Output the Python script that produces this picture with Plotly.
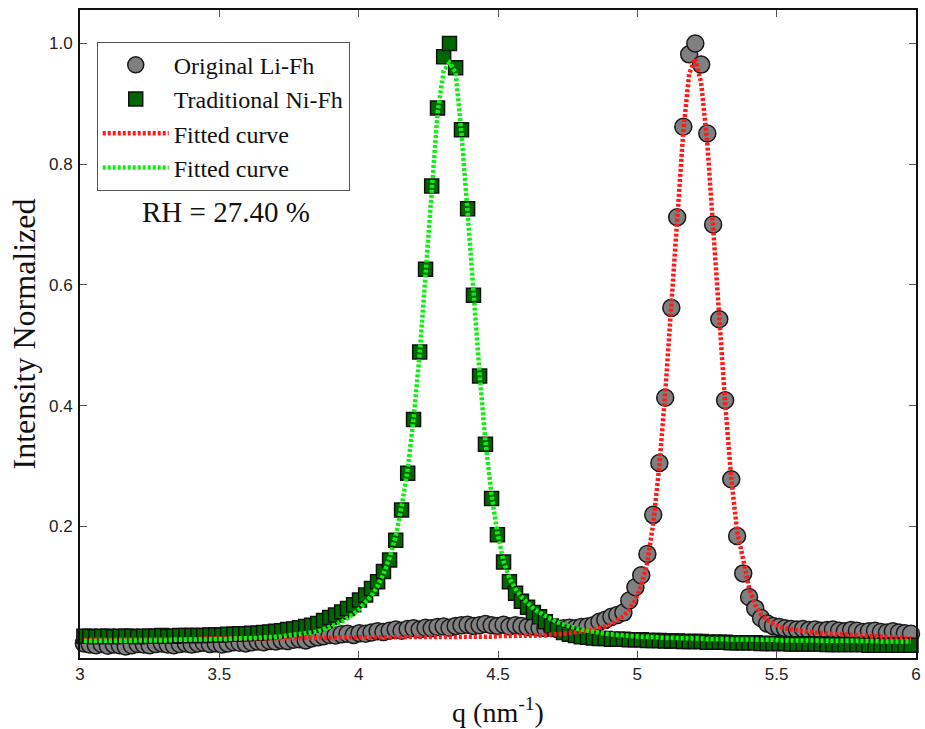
"""
Normalized scattering intensity vs q for Li-Fh and Ni-Fh, with fitted curves.
"""

import plotly.graph_objects as go

# q grid (nm^-1) shared by both samples and fits
q = [
    3.014, 3.035, 3.057, 3.078, 3.100, 3.121, 3.143, 3.164, 3.186, 3.207,
    3.229, 3.250, 3.272, 3.294, 3.315, 3.337, 3.358, 3.380, 3.401, 3.423,
    3.444, 3.466, 3.487, 3.509, 3.530, 3.552, 3.573, 3.595, 3.616, 3.638,
    3.659, 3.681, 3.702, 3.724, 3.745, 3.767, 3.788, 3.810, 3.831, 3.853,
    3.874, 3.896, 3.917, 3.939, 3.960, 3.982, 4.003, 4.025, 4.046, 4.068,
    4.089, 4.111, 4.133, 4.154, 4.176, 4.197, 4.219, 4.240, 4.262, 4.283,
    4.305, 4.326, 4.348, 4.369, 4.391, 4.412, 4.434, 4.455, 4.477, 4.498,
    4.520, 4.541, 4.563, 4.584, 4.606, 4.627, 4.649, 4.670, 4.692, 4.713,
    4.735, 4.756, 4.778, 4.799, 4.821, 4.842, 4.864, 4.885, 4.907, 4.928,
    4.950, 4.971, 4.993, 5.014, 5.036, 5.057, 5.079, 5.100, 5.122, 5.143,
    5.165, 5.186, 5.208, 5.229, 5.251, 5.272, 5.294, 5.315, 5.337, 5.358,
    5.380, 5.401, 5.423, 5.444, 5.466, 5.487, 5.509, 5.530, 5.552, 5.573,
    5.595, 5.616, 5.638, 5.659, 5.681, 5.702, 5.724, 5.745, 5.767, 5.788,
    5.810, 5.831, 5.853, 5.874, 5.896, 5.917, 5.939, 5.960, 5.982,
]

# Original Li-Fh (measured)
li_fh = [
    0.006, 0.004, 0.003, 0.005, 0.002, 0.004, 0.003, 0.001, 0.003, 0.005,
    0.004, 0.003, 0.005, 0.006, 0.004, 0.003, 0.005, 0.006, 0.004, 0.006,
    0.007, 0.005, 0.006, 0.004, 0.006, 0.008, 0.007, 0.006, 0.008, 0.009,
    0.008, 0.010, 0.009, 0.011, 0.010, 0.012, 0.013, 0.011, 0.014, 0.016,
    0.018, 0.020, 0.019, 0.021, 0.022, 0.020, 0.023, 0.022, 0.024, 0.026,
    0.025, 0.027, 0.029, 0.027, 0.030, 0.031, 0.029, 0.032, 0.031, 0.033,
    0.034, 0.032, 0.035, 0.036, 0.037, 0.035, 0.036, 0.038, 0.036, 0.035,
    0.037, 0.034, 0.036, 0.035, 0.033, 0.034, 0.032, 0.031, 0.033, 0.030,
    0.031, 0.032, 0.031, 0.033, 0.034, 0.036, 0.042, 0.045, 0.050, 0.053,
    0.057, 0.077, 0.099, 0.119, 0.154, 0.219, 0.305, 0.413, 0.562, 0.712,
    0.862, 0.982, 1.000, 0.965, 0.851, 0.700, 0.543, 0.409, 0.278, 0.184,
    0.122, 0.083, 0.064, 0.048, 0.039, 0.035, 0.033, 0.031, 0.030, 0.029,
    0.030, 0.028, 0.029, 0.027, 0.028, 0.029, 0.027, 0.026, 0.028, 0.027,
    0.025, 0.026, 0.027, 0.025, 0.024, 0.026, 0.024, 0.023, 0.022,
]

# Traditional Ni-Fh (measured)
ni_fh = [
    0.018, 0.018, 0.017, 0.018, 0.018, 0.017, 0.018, 0.018, 0.018, 0.017,
    0.018, 0.018, 0.018, 0.019, 0.018, 0.018, 0.019, 0.019, 0.019, 0.019,
    0.019, 0.020, 0.020, 0.020, 0.021, 0.021, 0.022, 0.022, 0.023, 0.023,
    0.024, 0.025, 0.026, 0.027, 0.029, 0.030, 0.032, 0.034, 0.036, 0.039,
    0.044, 0.049, 0.053, 0.058, 0.064, 0.070, 0.078, 0.086, 0.097, 0.108,
    0.125, 0.144, 0.177, 0.227, 0.288, 0.377, 0.489, 0.626, 0.764, 0.893,
    0.978, 1.000, 0.960, 0.857, 0.726, 0.583, 0.449, 0.336, 0.246, 0.186,
    0.141, 0.108, 0.089, 0.076, 0.066, 0.057, 0.050, 0.042, 0.035, 0.029,
    0.024, 0.021, 0.019, 0.017, 0.016, 0.015, 0.014, 0.014, 0.013, 0.013,
    0.013, 0.012, 0.012, 0.012, 0.011, 0.011, 0.011, 0.010, 0.010, 0.010,
    0.009, 0.009, 0.009, 0.009, 0.008, 0.008, 0.008, 0.008, 0.007, 0.007,
    0.007, 0.007, 0.007, 0.006, 0.006, 0.006, 0.006, 0.006, 0.005, 0.005,
    0.005, 0.005, 0.005, 0.005, 0.004, 0.004, 0.004, 0.004, 0.004, 0.004,
    0.004, 0.003, 0.003, 0.003, 0.003, 0.003, 0.003, 0.003, 0.003,
]

# Fitted curve for Li-Fh (red)
li_fit = [
    0.012, 0.012, 0.012, 0.012, 0.012, 0.012, 0.012, 0.012, 0.012, 0.012,
    0.013, 0.013, 0.013, 0.013, 0.013, 0.013, 0.013, 0.013, 0.013, 0.013,
    0.014, 0.014, 0.014, 0.014, 0.014, 0.014, 0.014, 0.014, 0.014, 0.014,
    0.015, 0.015, 0.015, 0.015, 0.015, 0.015, 0.015, 0.015, 0.015, 0.015,
    0.015, 0.015, 0.015, 0.016, 0.016, 0.016, 0.016, 0.016, 0.016, 0.016,
    0.016, 0.016, 0.016, 0.016, 0.016, 0.016, 0.016, 0.016, 0.016, 0.016,
    0.016, 0.016, 0.017, 0.017, 0.017, 0.017, 0.017, 0.017, 0.017, 0.018,
    0.018, 0.018, 0.018, 0.018, 0.019, 0.019, 0.019, 0.020, 0.020, 0.021,
    0.022, 0.023, 0.024, 0.025, 0.027, 0.029, 0.031, 0.034, 0.038, 0.044,
    0.051, 0.062, 0.078, 0.102, 0.140, 0.205, 0.300, 0.420, 0.565, 0.715,
    0.855, 0.950, 0.975, 0.935, 0.835, 0.695, 0.545, 0.405, 0.280, 0.192,
    0.145, 0.098, 0.070, 0.054, 0.045, 0.039, 0.034, 0.031, 0.029, 0.027,
    0.026, 0.025, 0.024, 0.023, 0.022, 0.022, 0.021, 0.021, 0.020, 0.019,
    0.019, 0.018, 0.018, 0.017, 0.017, 0.016, 0.016, 0.015, 0.014,
]

# Fitted curve for Ni-Fh (green)
ni_fit = [
    0.010, 0.010, 0.010, 0.010, 0.010, 0.010, 0.010, 0.011, 0.011, 0.011,
    0.011, 0.011, 0.011, 0.011, 0.011, 0.012, 0.012, 0.012, 0.012, 0.012,
    0.012, 0.013, 0.013, 0.013, 0.013, 0.014, 0.014, 0.014, 0.015, 0.015,
    0.016, 0.016, 0.017, 0.018, 0.019, 0.020, 0.021, 0.022, 0.024, 0.026,
    0.029, 0.033, 0.037, 0.042, 0.048, 0.055, 0.063, 0.073, 0.085, 0.101,
    0.121, 0.148, 0.184, 0.232, 0.295, 0.378, 0.486, 0.617, 0.760, 0.885,
    0.955, 0.968, 0.952, 0.850, 0.720, 0.580, 0.452, 0.340, 0.252, 0.188,
    0.142, 0.114, 0.096, 0.083, 0.073, 0.064, 0.057, 0.051, 0.046, 0.041,
    0.037, 0.034, 0.031, 0.029, 0.027, 0.025, 0.024, 0.022, 0.021, 0.020,
    0.019, 0.019, 0.018, 0.017, 0.017, 0.016, 0.016, 0.015, 0.015, 0.015,
    0.014, 0.014, 0.014, 0.014, 0.013, 0.013, 0.013, 0.013, 0.013, 0.012,
    0.012, 0.012, 0.012, 0.012, 0.012, 0.012, 0.011, 0.011, 0.011, 0.011,
    0.011, 0.011, 0.011, 0.011, 0.010, 0.010, 0.010, 0.010, 0.010, 0.010,
    0.010, 0.010, 0.010, 0.009, 0.009, 0.009, 0.009, 0.009, 0.009,
]

x_ticks = [3, 3.5, 4, 4.5, 5, 5.5, 6]
x_ticktext = ["3", "3.5", "4", "4.5", "5", "5.5", "6"]
y_ticks = [0.2, 0.4, 0.6, 0.8, 1.0]
y_ticktext = ["0.2", "0.4", "0.6", "0.8", "1.0"]

SERIF = "Liberation Serif, Times New Roman, serif"
SANS = "Liberation Sans, Arial, sans-serif"

fig = go.Figure()

fig.add_trace(go.Scatter(
    x=q, y=li_fh, mode="markers", name="Original Li-Fh",
    marker=dict(symbol="circle", size=17, color="#808080",
                line=dict(color="#1a1a1a", width=1.5)),
    cliponaxis=False,
))
fig.add_trace(go.Scatter(
    x=q, y=ni_fh, mode="markers", name="Traditional Ni-Fh",
    marker=dict(symbol="square", size=14, color="#006600",
                line=dict(color="#111111", width=1.5)),
    cliponaxis=False,
))
fig.add_trace(go.Scatter(
    x=q, y=li_fit, mode="lines", name="Fitted curve",
    line=dict(color="#ff1a1a", width=4.5, dash="3px,2px"),
))
fig.add_trace(go.Scatter(
    x=q, y=ni_fit, mode="lines", name="Fitted curve",
    line=dict(color="#11ee11", width=4.5, dash="3px,2px"),
))

fig.add_annotation(
    x=3.523, y=0.721, xref="x", yref="y", text="RH = 27.40 %",
    showarrow=False, font=dict(family=SERIF, size=29, color="#111111"),
)

axis_common = dict(
    showline=True, linecolor="#111111", linewidth=2, mirror="ticks",
    ticks="inside", ticklen=7, tickwidth=1, tickcolor="#555555",
    showgrid=False, zeroline=False,
    tickfont=dict(family=SANS, size=17, color="#222222"),
)

fig.update_xaxes(
    range=[3, 6], tickvals=x_ticks, ticktext=x_ticktext,
    title=dict(text="q (nm<sup>-1</sup>)", standoff=19,
               font=dict(family=SERIF, size=28, color="#111111")),
    **axis_common,
)
fig.update_yaxes(
    range=[-0.0182, 1.0555], tickvals=y_ticks, ticktext=y_ticktext,
    ticklabelstandoff=2,
    title=dict(text="Intensity Normalized", standoff=4,
               font=dict(family=SERIF, size=32, color="#111111")),
    **axis_common,
)

fig.update_layout(
    width=925, height=729,
    margin=dict(l=80, r=9, t=10, b=71, autoexpand=False),
    paper_bgcolor="white", plot_bgcolor="white",
    legend=dict(
        x=0.02, y=0.951, xanchor="left", yanchor="top",
        bgcolor="white", bordercolor="#555555", borderwidth=1,
        font=dict(family=SERIF, size=24, color="#111111"),
        itemwidth=66,
    ),
)

# drop the default page margin so the figure sits at the window's corner
fig.write_html(
    "out.html",
    config={"displayModeBar": False},
    post_script="document.body.style.margin='0';",
)
